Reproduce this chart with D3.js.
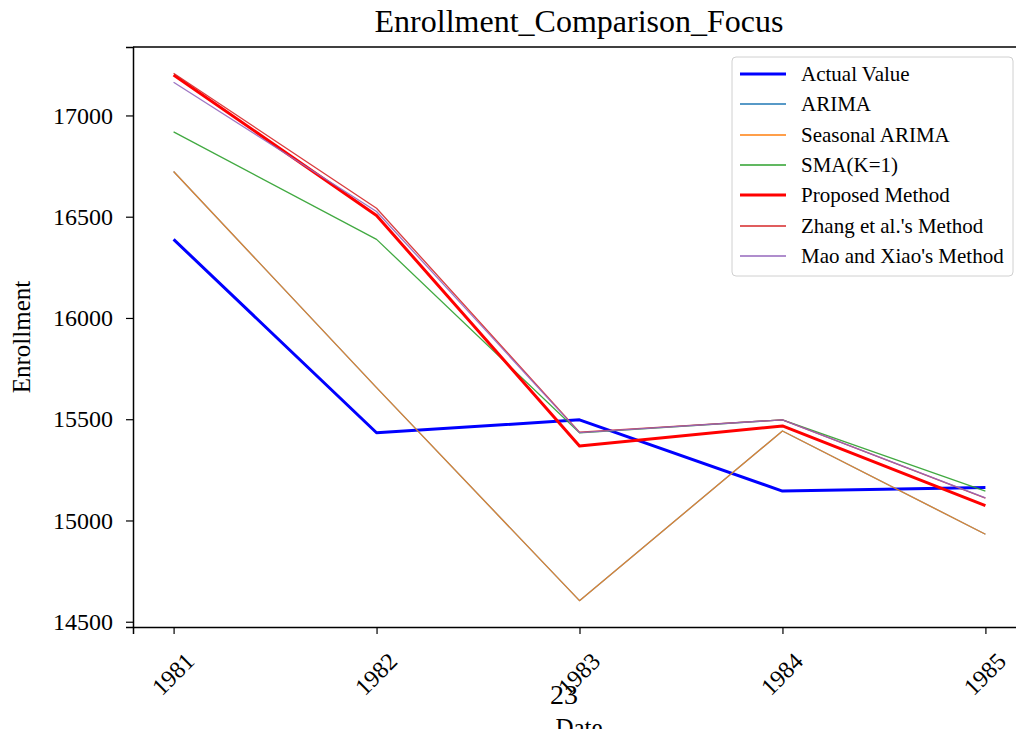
<!DOCTYPE html>
<html lang="en">
<head>
<meta charset="utf-8">
<title>Enrollment_Comparison_Focus</title>
<script src="https://d3js.org/d3.v7.min.js"></script>
<style>
  body { margin: 0; background: #fff; }
  svg text { font-family: 'Liberation Serif', 'Times New Roman', serif; }
</style>
</head>
<body>
<div id="chart"></div>
<script>

/* Data */
/* ==== */

var years = [1981, 1982, 1983, 1984, 1985];

var actualValue    = [16388, 15433, 15497, 15145, 15163];
var arima          = [16723, 15656, 14604, 15442, 14932];
var seasonalArima  = [16723, 15656, 14604, 15442, 14932];
var sma            = [16919, 16388, 15433, 15497, 15145];
var proposed       = [17200, 16506, 15368, 15467, 15073];
var zhang          = [17208, 16542, 15436, 15497, 15110];
var maoXiao        = [17164, 16526, 15434, 15497, 15112];

var yTicks = [14500, 15000, 15500, 16000, 16500, 17000];

var series = [
  { name: 'Actual Value',          values: actualValue,   color: '#0000ff', width: 3,   alpha: 1 },
  { name: 'ARIMA',                 values: arima,         color: '#1f77b4', width: 1.3, alpha: 0.8 },
  { name: 'Seasonal ARIMA',        values: seasonalArima, color: '#ff7f0e', width: 1.3, alpha: 0.8 },
  { name: 'SMA(K=1)',              values: sma,           color: '#2ca02c', width: 1.3, alpha: 0.9 },
  { name: 'Proposed Method',       values: proposed,      color: '#ff0000', width: 3,   alpha: 1 },
  { name: "Zhang et al.'s Method", values: zhang,         color: '#d62728', width: 1.3, alpha: 0.9 },
  { name: "Mao and Xiao's Method", values: maoXiao,       color: '#9467bd', width: 1.3, alpha: 0.9 }
];

/* Setup */
/* ===== */

var width = 1016,
    height = 729,
    plotLeft = 133, plotRight = 1026, plotTop = 47, plotBottom = 627;

var serif = "'Liberation Serif', 'Times New Roman', serif";

var svg = d3.select('#chart').append('svg')
    .attr('width', width)
    .attr('height', height);

var x = d3.scaleLinear().domain([1980.8, 1985.2]).range([plotLeft, plotRight]);
var y = d3.scaleLinear().domain([14474, 17338]).range([plotBottom, plotTop]);

// Lines
var line = d3.line()
    .x(function(d, i) { return x(years[i]); })
    .y(function(d) { return y(d); });

svg.append('g').selectAll('path')
  .data(series)
  .join('path')
    .attr('d', function(s) { return line(s.values); })
    .attr('fill', 'none')
    .attr('stroke', function(s) { return s.color; })
    .attr('stroke-width', function(s) { return s.width; })
    .attr('stroke-opacity', function(s) { return s.alpha; })
    .attr('stroke-linejoin', 'round');

// Axes
var yAxis = svg.append('g')
    .attr('transform', 'translate(' + plotLeft + ',0)')
    .call(d3.axisLeft(y).tickValues(yTicks).tickSize(7).tickPadding(13).tickFormat(d3.format('d')));

var xAxis = svg.append('g')
    .attr('transform', 'translate(0,' + plotBottom + ')')
    .call(d3.axisBottom(x).tickValues(years).tickSize(7).tickFormat(d3.format('d')));

[xAxis, yAxis].forEach(function(a) {
  a.attr('font-family', null).attr('font-size', null);
  a.select('.domain').attr('stroke', '#000').attr('stroke-width', 1.5);
  a.selectAll('.tick line').attr('stroke', '#000').attr('stroke-width', 1.2);
  a.selectAll('text')
      .style('font-family', serif)
      .style('font-size', '24px')
      .attr('fill', '#000');
});

// rotate x labels 45 around their centre
xAxis.selectAll('.tick text')
    .attr('y', 0).attr('dy', 0)
    .attr('text-anchor', 'middle')
    .attr('dominant-baseline', 'central')
    .attr('transform', 'translate(-1,47) rotate(-45)');

// top spine
svg.append('line')
    .attr('x1', plotLeft).attr('x2', plotRight)
    .attr('y1', plotTop).attr('y2', plotTop)
    .attr('stroke', '#000').attr('stroke-width', 1.5);

// Title and labels
svg.append('text')
    .attr('x', 579).attr('y', 32)
    .attr('text-anchor', 'middle')
    .attr('font-size', 32)
    .text('Enrollment_Comparison_Focus');

svg.append('text')
    .attr('transform', 'translate(30,' + ((plotTop + plotBottom) / 2) + ') rotate(-90)')
    .attr('text-anchor', 'middle')
    .attr('font-size', 25)
    .text('Enrollment');

svg.append('text')
    .attr('x', 579).attr('y', 736)
    .attr('text-anchor', 'middle')
    .attr('font-size', 25)
    .text('Date');

svg.append('text')
    .attr('x', 564).attr('y', 704)
    .attr('text-anchor', 'middle')
    .attr('font-size', 28)
    .text('23');

// Legend
var legend = svg.append('g').attr('transform', 'translate(732,57)');

legend.append('rect')
    .attr('width', 281).attr('height', 219)
    .attr('rx', 4)
    .attr('fill', '#fff').attr('fill-opacity', 0.8)
    .attr('stroke', '#d0d0d0');

var items = legend.selectAll('g.item')
  .data(series)
  .join('g')
    .attr('class', 'item')
    .attr('transform', function(d, i) { return 'translate(0,' + Math.round(17 + i * 30.3) + ')'; });

items.append('line')
    .attr('x1', 8).attr('x2', 54)
    .attr('stroke', function(s) { return s.color; })
    .attr('stroke-width', function(s) { return s.width; });

items.append('text')
    .attr('x', 69).attr('y', 7)
    .attr('font-size', 21)
    .text(function(s) { return s.name; });

</script>
</body>
</html>
